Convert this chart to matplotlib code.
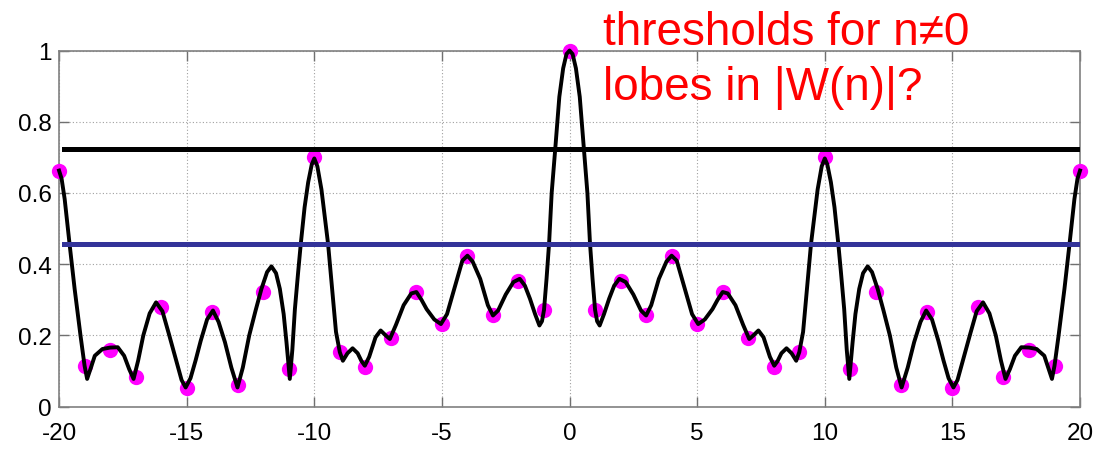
import numpy as np
import matplotlib
matplotlib.use('Agg')
import matplotlib.pyplot as plt

plt.rcParams['font.family'] = ['Liberation Sans', 'DejaVu Sans']
plt.rcParams['axes.unicode_minus'] = False

# |W(n)| curve (left half, then right half)
curve_x_left = [-20.0, -19.9, -19.78, -19.59, -19.39, -19.16, -19.0, -18.9, -18.75, -18.6,
                -18.3, -18.0, -17.7, -17.45, -17.25, -17.08, -16.9, -16.7, -16.45, -16.2,
                -15.95, -15.7, -15.45, -15.2, -15.04, -14.85, -14.65, -14.45, -14.2, -13.97,
                -13.75, -13.5, -13.25, -13.01, -12.8, -12.55, -12.3, -12.07, -11.85, -11.68,
                -11.5, -11.35, -11.2, -11.09, -10.96, -10.86, -10.76, -10.63, -10.53, -10.38,
                -10.24, -10.1, -10.0, -9.88, -9.72, -9.6, -9.46, -9.3, -9.15, -9.0,
                -8.88, -8.7, -8.5, -8.3, -8.15, -8.02, -7.85, -7.6, -7.4, -7.2,
                -7.04, -6.8, -6.5, -6.2, -6.0, -5.8, -5.6, -5.3, -5.04, -4.8,
                -4.6, -4.42, -4.2, -4.0, -3.8, -3.5, -3.2, -3.0, -2.8, -2.5,
                -2.2, -1.95, -1.75, -1.55, -1.35, -1.18, -1.08, -1.0, -0.9, -0.8,
                -0.7, -0.56, -0.4, -0.25, -0.12, 0.0]
curve_y_left = [0.663, 0.64, 0.583, 0.458, 0.331, 0.20, 0.115, 0.078, 0.11, 0.143,
                0.162, 0.166, 0.167, 0.143, 0.105, 0.078, 0.13, 0.20, 0.262, 0.293,
                0.268, 0.205, 0.14, 0.075, 0.054, 0.08, 0.13, 0.185, 0.245, 0.27,
                0.238, 0.181, 0.11, 0.054, 0.11, 0.20, 0.27, 0.331, 0.378, 0.394,
                0.375, 0.331, 0.26, 0.181, 0.078, 0.16, 0.274, 0.38, 0.457, 0.56,
                0.63, 0.68, 0.697, 0.675, 0.61, 0.54, 0.457, 0.33, 0.21, 0.153,
                0.129, 0.15, 0.164, 0.15, 0.128, 0.115, 0.14, 0.195, 0.214, 0.20,
                0.19, 0.23, 0.285, 0.318, 0.322, 0.30, 0.274, 0.245, 0.232, 0.26,
                0.31, 0.355, 0.41, 0.424, 0.408, 0.359, 0.285, 0.256, 0.27, 0.315,
                0.35, 0.359, 0.34, 0.303, 0.26, 0.228, 0.24, 0.272, 0.36, 0.46,
                0.6, 0.724, 0.87, 0.95, 0.99, 1.0]
curve_x_right = [0.12, 0.25, 0.4, 0.56, 0.7, 0.8, 0.9, 1.0, 1.08, 1.18,
                 1.35, 1.55, 1.75, 1.95, 2.2, 2.5, 2.8, 3.0, 3.2, 3.5,
                 3.8, 4.0, 4.2, 4.42, 4.6, 4.8, 5.04, 5.3, 5.6, 5.8,
                 6.0, 6.2, 6.5, 6.8, 7.04, 7.2, 7.4, 7.6, 7.85, 8.02,
                 8.15, 8.3, 8.5, 8.7, 8.88, 9.0, 9.15, 9.3, 9.46, 9.6,
                 9.72, 9.88, 10.0, 10.1, 10.24, 10.38, 10.53, 10.63, 10.76, 10.86,
                 10.96, 11.09, 11.2, 11.35, 11.5, 11.68, 11.85, 12.07, 12.3, 12.55,
                 12.8, 13.01, 13.25, 13.5, 13.75, 13.97, 14.2, 14.45, 14.65, 14.85,
                 15.04, 15.2, 15.45, 15.7, 15.95, 16.2, 16.45, 16.7, 16.9, 17.08,
                 17.25, 17.45, 17.7, 18.0, 18.3, 18.6, 18.75, 18.9, 19.0, 19.16,
                 19.39, 19.59, 19.78, 19.9, 20.0]
curve_y_right = [0.99, 0.95, 0.87, 0.724, 0.6, 0.46, 0.36, 0.272, 0.24, 0.228,
                 0.26, 0.303, 0.34, 0.359, 0.35, 0.315, 0.27, 0.256, 0.285, 0.359,
                 0.408, 0.424, 0.41, 0.355, 0.31, 0.26, 0.232, 0.245, 0.274, 0.30,
                 0.322, 0.318, 0.285, 0.23, 0.19, 0.20, 0.214, 0.195, 0.14, 0.115,
                 0.128, 0.15, 0.164, 0.15, 0.129, 0.153, 0.21, 0.33, 0.457, 0.54,
                 0.61, 0.675, 0.697, 0.68, 0.63, 0.56, 0.457, 0.38, 0.274, 0.16,
                 0.078, 0.181, 0.26, 0.331, 0.375, 0.394, 0.378, 0.331, 0.27, 0.20,
                 0.11, 0.054, 0.11, 0.181, 0.238, 0.27, 0.245, 0.185, 0.13, 0.08,
                 0.054, 0.075, 0.14, 0.205, 0.268, 0.293, 0.262, 0.20, 0.13, 0.078,
                 0.105, 0.143, 0.167, 0.166, 0.162, 0.143, 0.11, 0.078, 0.115, 0.20,
                 0.331, 0.458, 0.583, 0.64, 0.663]

# samples at integer n
n_samples = np.arange(-20, 21)
w_samples = [0.663, 0.115, 0.160, 0.083, 0.279, 0.052, 0.267, 0.061, 0.321, 0.106,
             0.700, 0.153, 0.112, 0.192, 0.321, 0.232, 0.424, 0.258, 0.352, 0.272,
             1.0,
             0.272, 0.352, 0.258, 0.424, 0.232, 0.321, 0.192, 0.112, 0.153, 0.700,
             0.106, 0.321, 0.061, 0.267, 0.052, 0.279, 0.083, 0.160, 0.115, 0.663]

# threshold levels
thr_black = 0.724
thr_blue = 0.458
thr_start = -19.8
thr_end = 20.0

curve_x = curve_x_left + curve_x_right
curve_y = curve_y_left + curve_y_right

fig = plt.figure(figsize=(11.1, 4.52), dpi=100)
ax = fig.add_axes([0.0532, 0.098, 0.9198, 0.788])

ax.plot(n_samples, w_samples, 'o', color='#ff00ff', markersize=11, markeredgewidth=0,
        clip_on=False, zorder=3)
ax.plot(curve_x, curve_y, color='black', linewidth=2.8, solid_joinstyle='round',
        clip_on=False, zorder=4)
ax.plot([thr_start, thr_end], [thr_black, thr_black], color='black', linewidth=3.6, zorder=5)
ax.plot([thr_start, thr_end], [thr_blue, thr_blue], color='#333399', linewidth=3.6, zorder=5)

ax.set_xlim(-20, 20)
ax.set_ylim(0, 1)
ax.set_xticks(np.arange(-20, 21, 5))
ax.set_yticks([0, 0.2, 0.4, 0.6, 0.8, 1])
ax.set_yticklabels(['0', '0.2', '0.4', '0.6', '0.8', '1'])
ax.grid(True, linestyle=(0, (1, 2)), color='#a0a0a0', linewidth=0.8)
ax.tick_params(direction='in', length=7, width=1, colors='#707070', labelcolor='black',
               labelsize=17.5, top=True, right=True)
ax.tick_params(axis='x', pad=11)
ax.tick_params(axis='y', pad=5)
for s in ax.spines.values():
    s.set_color('#808080')
    s.set_linewidth(1.2)

fig.text(603 / 1110, 1 - 45 / 452, 'thresholds for n\u22600', color='red', fontsize=33,
         ha='left', va='baseline')
fig.text(603 / 1110, 1 - 100 / 452, 'lobes in |W(n)|?', color='red', fontsize=33,
         ha='left', va='baseline')

plt.savefig('out.png', dpi=100)
